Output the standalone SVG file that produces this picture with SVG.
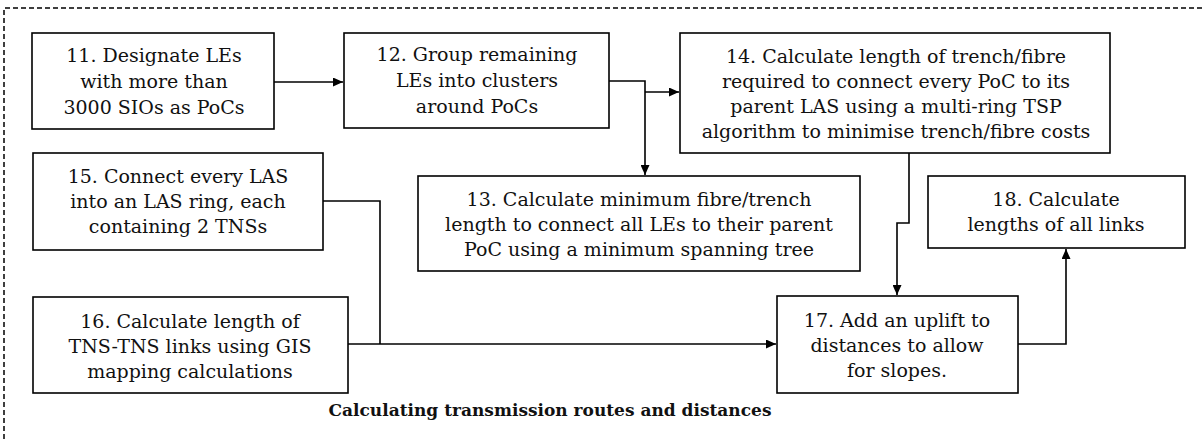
<svg xmlns="http://www.w3.org/2000/svg" width="1204" height="439" viewBox="0 0 1204 439">
<style>
.box{fill:#fff;stroke:#000;stroke-width:1.6}
.t{font-family:"DejaVu Serif","Liberation Serif",serif;font-size:19px;fill:#111;text-anchor:middle}
.title{font-family:"DejaVu Serif","Liberation Serif",serif;font-size:17px;font-weight:bold;fill:#111;text-anchor:middle}
.c{fill:none;stroke:#000;stroke-width:1.6}
.frame{fill:none;stroke:#000;stroke-width:1.5;stroke-dasharray:5 3}
</style>
<defs>
<marker id="ah" viewBox="0 0 10 10" refX="10" refY="5" markerWidth="10" markerHeight="9" markerUnits="userSpaceOnUse" orient="auto" preserveAspectRatio="none">
<path d="M0,0 L10,5 L0,10 z" fill="#000"/>
</marker>
</defs>
<rect width="1204" height="439" fill="#fff"/>
<path class="frame" d="M4,439 L4,8 L1204,8"/>
<g id="connectors">
<path class="c" d="M274,82 L343,82" marker-end="url(#ah)"/>
<path class="c" d="M609,81 L645,81 L645,175" marker-end="url(#ah)"/>
<path class="c" d="M645,92 L679,92" marker-end="url(#ah)"/>
<path class="c" d="M909,153 L909,223 L897,223 L897,295" marker-end="url(#ah)"/>
<path class="c" d="M323,201 L380,201 L380,344"/>
<path class="c" d="M348,344 L776,344" marker-end="url(#ah)"/>
<path class="c" d="M1018,344 L1066,344 L1066,249" marker-end="url(#ah)"/>
</g>
<g id="n11">
<rect class="box" x="32" y="33" width="242" height="96"/>
<text class="t" x="154" y="62">11. Designate LEs</text>
<text class="t" x="154" y="88">with more than</text>
<text class="t" x="154" y="114">3000 SIOs as PoCs</text>
</g>
<g id="n12">
<rect class="box" x="344" y="33" width="265" height="95"/>
<text class="t" x="477" y="61">12. Group remaining</text>
<text class="t" x="477" y="87">LEs into clusters</text>
<text class="t" x="477" y="113">around PoCs</text>
</g>
<g id="n14">
<rect class="box" x="680" y="33" width="430" height="120"/>
<text class="t" x="896" y="63">14. Calculate length of trench/fibre</text>
<text class="t" x="896" y="88">required to connect every PoC to its</text>
<text class="t" x="896" y="113">parent LAS using a multi-ring TSP</text>
<text class="t" x="896" y="138">algorithm to minimise trench/fibre costs</text>
</g>
<g id="n15">
<rect class="box" x="33" y="153" width="290" height="97"/>
<text class="t" x="178" y="183">15. Connect every LAS</text>
<text class="t" x="178" y="208">into an LAS ring, each</text>
<text class="t" x="178" y="233">containing 2 TNSs</text>
</g>
<g id="n13">
<rect class="box" x="418" y="176" width="442" height="95"/>
<text class="t" x="639" y="206">13. Calculate minimum fibre/trench</text>
<text class="t" x="639" y="231">length to connect all LEs to their parent</text>
<text class="t" x="639" y="256">PoC using a minimum spanning tree</text>
</g>
<g id="n18">
<rect class="box" x="928" y="176" width="257" height="72"/>
<text class="t" x="1056" y="206">18. Calculate</text>
<text class="t" x="1056" y="231">lengths of all links</text>
</g>
<g id="n16">
<rect class="box" x="33" y="297" width="315" height="96"/>
<text class="t" x="190" y="328">16. Calculate length of</text>
<text class="t" x="190" y="353">TNS-TNS links using GIS</text>
<text class="t" x="190" y="378">mapping calculations</text>
</g>
<g id="n17">
<rect class="box" x="777" y="296" width="241" height="97"/>
<text class="t" x="897" y="327">17. Add an uplift to</text>
<text class="t" x="897" y="352">distances to allow</text>
<text class="t" x="897" y="377">for slopes.</text>
</g>
<text class="title" x="550" y="416">Calculating transmission routes and distances</text>
</svg>
